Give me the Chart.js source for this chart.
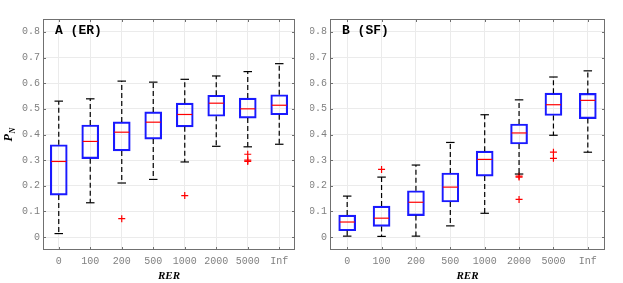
<!DOCTYPE html>
<html lang="en">
<head>
<meta charset="UTF-8">
<title>P_N vs RER</title>
<script src="https://cdn.jsdelivr.net/npm/chart.js"></script>
<style>
  body { margin: 0; background: #fff; }
  #wrap { position: relative; width: 623px; height: 283px; }
  canvas { position: absolute; top: 0; }
  #chartER { left: 0; }
  #chartSF { left: 310px; }
</style>
</head>
<body>
<div id="wrap">
  <canvas id="chartER" width="310" height="283"></canvas>
  <canvas id="chartSF" width="313" height="283"></canvas>
</div>
<script>
const rerLabels = ['0', '100', '200', '500', '1000', '2000', '5000', 'Inf'];
const yTicks = [0, 0.1, 0.2, 0.3, 0.4, 0.5, 0.6, 0.7, 0.8];

// panel A (ER)
const erLow  = [0.014, 0.134, 0.211, 0.225, 0.293, 0.354, 0.352, 0.362];
const erQ1   = [0.164, 0.306, 0.336, 0.382, 0.430, 0.471, 0.464, 0.477];
const erMed  = [0.295, 0.373, 0.409, 0.448, 0.478, 0.522, 0.500, 0.514];
const erQ3   = [0.360, 0.437, 0.449, 0.488, 0.522, 0.553, 0.542, 0.555];
const erHigh = [0.530, 0.539, 0.608, 0.604, 0.615, 0.628, 0.645, 0.676];
const erOutliers = [[2, 0.072], [4, 0.162], [6, 0.323], [6, 0.300], [6, 0.295]];

// panel B (SF)
const sfLow  = [0.004, 0.003, 0.004, 0.044, 0.093, 0.246, 0.397, 0.331];
const sfQ1   = [0.025, 0.042, 0.084, 0.137, 0.238, 0.363, 0.474, 0.462];
const sfMed  = [0.059, 0.074, 0.136, 0.195, 0.303, 0.406, 0.516, 0.533];
const sfQ3   = [0.086, 0.121, 0.181, 0.250, 0.335, 0.441, 0.561, 0.560];
const sfHigh = [0.160, 0.234, 0.281, 0.369, 0.477, 0.535, 0.624, 0.648];
const sfOutliers = [[1, 0.264], [5, 0.238], [5, 0.234], [5, 0.147], [6, 0.331], [6, 0.307]];

Chart.defaults.font.family = "'Liberation Mono', 'DejaVu Sans Mono', monospace";
Chart.defaults.font.size = 10;

// whiskers, caps and medians
const boxParts = {
  id: 'boxParts',
  afterDatasetsDraw(chart, args, opts) {
    const { ctx, scales: { x, y } } = chart;
    const bars = chart.getDatasetMeta(0).data;
    const seg = (x1, y1, x2, y2) => {
      ctx.beginPath(); ctx.moveTo(x1, y1); ctx.lineTo(x2, y2); ctx.stroke();
    };
    ctx.save();
    opts.low.forEach((lo, i) => {
      const cx = x.getPixelForValue(i);
      const bw = bars[i].width;
      const yLo = y.getPixelForValue(lo), yHi = y.getPixelForValue(opts.high[i]);
      const yQ1 = y.getPixelForValue(opts.q1[i]), yQ3 = y.getPixelForValue(opts.q3[i]);
      const yMed = y.getPixelForValue(opts.med[i]);
      ctx.strokeStyle = '#000';
      ctx.lineWidth = 1.2;
      ctx.setLineDash([5, 3]);
      seg(cx, yQ3, cx, yHi);
      seg(cx, yQ1, cx, yLo);
      ctx.setLineDash([]);
      seg(cx - bw / 4, yHi, cx + bw / 4, yHi);
      seg(cx - bw / 4, yLo, cx + bw / 4, yLo);
      ctx.strokeStyle = '#ff0000';
      seg(cx - bw / 2 + 1, yMed, cx + bw / 2 - 1, yMed);
    });
    ctx.restore();
  }
};

// axes box, inner ticks, panel tag and y label
const frame = {
  id: 'frame',
  afterDraw(chart, args, opts) {
    const { ctx, chartArea: a, scales: { x, y } } = chart;
    ctx.save();
    ctx.strokeStyle = '#707070';
    ctx.lineWidth = 1;
    ctx.strokeRect(a.left + 0.5, a.top + 0.5, a.right - a.left - 1, a.bottom - a.top - 1);
    yTicks.forEach(v => {
      const py = Math.round(y.getPixelForValue(v)) + 0.5;
      ctx.beginPath();
      ctx.moveTo(a.left, py); ctx.lineTo(a.left + 3, py);
      ctx.moveTo(a.right, py); ctx.lineTo(a.right - 3, py);
      ctx.stroke();
    });
    rerLabels.forEach((l, i) => {
      const px = Math.round(x.getPixelForValue(i)) + 0.5;
      ctx.beginPath();
      ctx.moveTo(px, a.bottom); ctx.lineTo(px, a.bottom - 3);
      ctx.moveTo(px, a.top); ctx.lineTo(px, a.top + 3);
      ctx.stroke();
    });
    ctx.fillStyle = '#000';
    ctx.font = "bold 13px 'Liberation Mono', monospace";
    ctx.textBaseline = 'middle';
    ctx.fillText(opts.tag, a.left + 12, a.top + 12);
    if (opts.yLabel) {
      ctx.translate(9, (a.top + a.bottom) / 2 + 2);
      ctx.rotate(-Math.PI / 2);
      ctx.font = "bold italic 12px 'Liberation Serif', serif";
      ctx.textBaseline = 'middle';
      ctx.fillText('P', -5, 0);
      ctx.font = "bold italic 8px 'Liberation Serif', serif";
      ctx.fillText('N', 3, 4);
    }
    ctx.restore();
  }
};

function makeChart(id, low, q1, med, q3, high, outliers, tag, yWidth, padRight, yLabel) {
  return new Chart(document.getElementById(id), {
    type: 'bar',
    data: {
      labels: rerLabels,
      datasets: [{
        data: q1.map((v, i) => [v, q3[i]]),
        backgroundColor: 'rgba(0,0,0,0)',
        borderColor: '#1a1aff',
        borderWidth: 1.5,
        borderSkipped: false,
        barThickness: 17
      }, {
        type: 'line',
        data: outliers.map(o => ({ x: rerLabels[o[0]], y: o[1] })),
        showLine: false,
        pointStyle: 'cross',
        pointRadius: 3.5,
        borderColor: '#ff0000',
        borderWidth: 1.2
      }]
    },
    options: {
      responsive: false,
      animation: false,
      layout: { padding: { top: 19, right: padRight, left: 0, bottom: 0 } },
      plugins: {
        legend: { display: false },
        tooltip: { enabled: false },
        boxParts: { low, q1, med, q3, high },
        frame: { tag, yLabel }
      },
      scales: {
        x: {
          offset: true,
          grid: { offset: false, color: '#ebebeb', drawTicks: false },
          border: { display: false },
          ticks: { color: '#808080', padding: 5, maxRotation: 0, autoSkip: false },
          title: {
            display: true, text: 'RER', color: '#000',
            font: { family: "'Liberation Serif', serif", size: 11, weight: 'bold', style: 'italic' },
            padding: { top: 0, bottom: 0 }
          },
          afterFit(scale) { scale.height = 33; }
        },
        y: {
          min: -0.05,
          max: 0.85,
          grid: { color: '#ebebeb', drawTicks: false },
          border: { display: false },
          ticks: {
            color: '#808080', padding: 3,
            callback: v => v === 0 ? '0' : v.toFixed(1)
          },
          afterBuildTicks(scale) { scale.ticks = yTicks.map(v => ({ value: v })); },
          afterFit(scale) { scale.width = yWidth; }
        }
      }
    },
    plugins: [boxParts, frame]
  });
}

makeChart('chartER', erLow, erQ1, erMed, erQ3, erHigh, erOutliers, 'A (ER)', 43, 15, true);
makeChart('chartSF', sfLow, sfQ1, sfMed, sfQ3, sfHigh, sfOutliers, 'B (SF)', 20, 18, false);
</script>
</body>
</html>
